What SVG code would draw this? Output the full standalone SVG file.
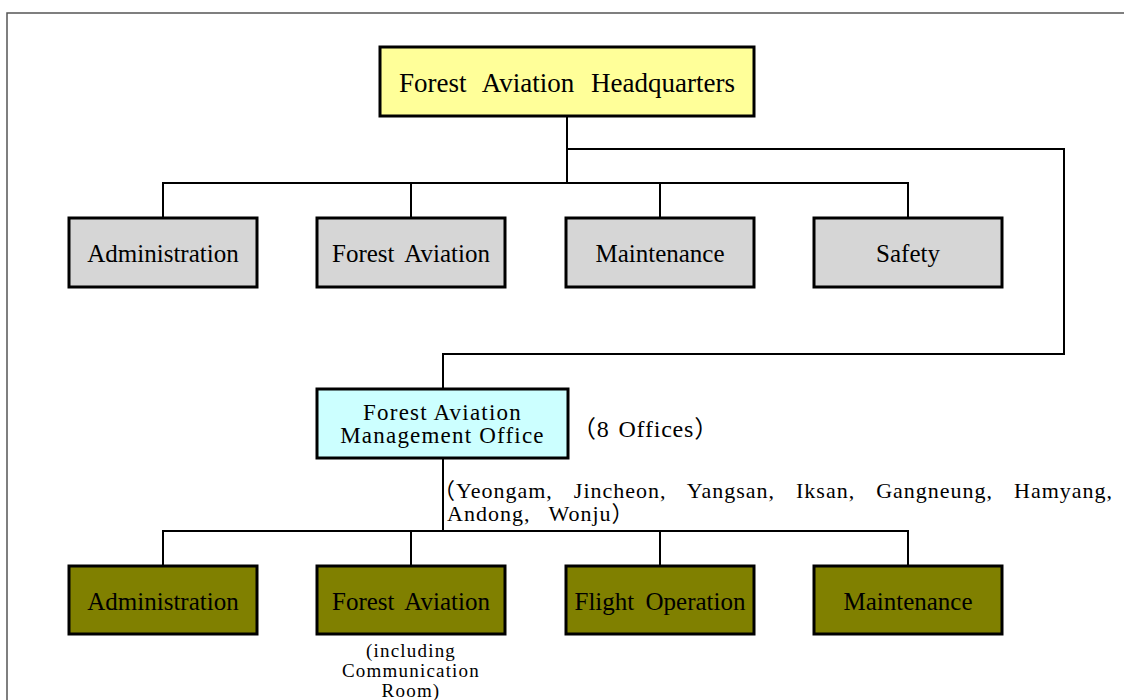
<svg xmlns="http://www.w3.org/2000/svg" width="1124" height="700" viewBox="0 0 1124 700">
<style>
.box{stroke:#000;stroke-width:3}
.hq{fill:#FFFF99}
.gray{fill:#D6D6D6}
.mgmt{fill:#CCFFFF}
.olive{fill:#808000}
.t{font-family:"Liberation Serif","Noto Sans CJK KR",serif;fill:#000;text-anchor:middle}
.s{text-anchor:start}
.conn{fill:none;stroke:#000;stroke-width:2}
</style>
<rect x="7" y="13" width="1130" height="700" fill="#fff" stroke="#555" stroke-width="1.5"/>
<g id="connectors" class="conn">
<path d="M567 116V183M163 218V183H908V218M411 183V218M660 183V218"/>
<path d="M567 149H1064V354H443V389"/>
<path d="M443 458V531M163 566V531H908V566M411 531V566M660 531V566"/>
</g>
<g id="hq"><rect class="box hq" x="380" y="47" width="374" height="69"/><text class="t" x="567" y="92" font-size="27" word-spacing="10">Forest Aviation Headquarters</text></g>
<g id="hq-admin"><rect class="box gray" x="69" y="218" width="188" height="69"/><text class="t" x="163" y="262" font-size="25">Administration</text></g>
<g id="hq-forest"><rect class="box gray" x="317" y="218" width="188" height="69"/><text class="t" x="411" y="262" font-size="25" word-spacing="5">Forest Aviation</text></g>
<g id="hq-maint"><rect class="box gray" x="566" y="218" width="188" height="69"/><text class="t" x="660" y="262" font-size="25">Maintenance</text></g>
<g id="hq-safety"><rect class="box gray" x="814" y="218" width="188" height="69"/><text class="t" x="908" y="262" font-size="25">Safety</text></g>
<g id="mgmt"><rect class="box mgmt" x="317" y="389" width="251" height="69"/><text class="t" x="442.5" y="420" font-size="23" letter-spacing="1.2">Forest Aviation</text><text class="t" x="442.5" y="443" font-size="23" letter-spacing="1.2">Management Office</text></g>
<g id="mgmt-note"><text class="t s" x="572" y="437" font-size="24" letter-spacing="0.8" word-spacing="2">（8 Offices）</text></g>
<g id="offices"><text class="t s" x="433" y="498" font-size="22" letter-spacing="1" word-spacing="14.5">（Yeongam, Jincheon, Yangsan, Iksan, Gangneung, Hamyang,</text><text class="t s" x="447" y="521" font-size="22" letter-spacing="1" word-spacing="12">Andong, Wonju）</text></g>
<g id="mo-admin"><rect class="box olive" x="69" y="566" width="188" height="68"/><text class="t" x="163" y="610" font-size="25">Administration</text></g>
<g id="mo-forest"><rect class="box olive" x="317" y="566" width="188" height="68"/><text class="t" x="411" y="610" font-size="25" word-spacing="5">Forest Aviation</text><text class="t" x="411" y="657" font-size="19" letter-spacing="1.2">(including</text><text class="t" x="411" y="677" font-size="19" letter-spacing="1.2">Communication</text><text class="t" x="411" y="697" font-size="19" letter-spacing="1.2">Room)</text></g>
<g id="mo-flight"><rect class="box olive" x="566" y="566" width="188" height="68"/><text class="t" x="660" y="610" font-size="25" word-spacing="5">Flight Operation</text></g>
<g id="mo-maint"><rect class="box olive" x="814" y="566" width="188" height="68"/><text class="t" x="908" y="610" font-size="25">Maintenance</text></g>
</svg>
